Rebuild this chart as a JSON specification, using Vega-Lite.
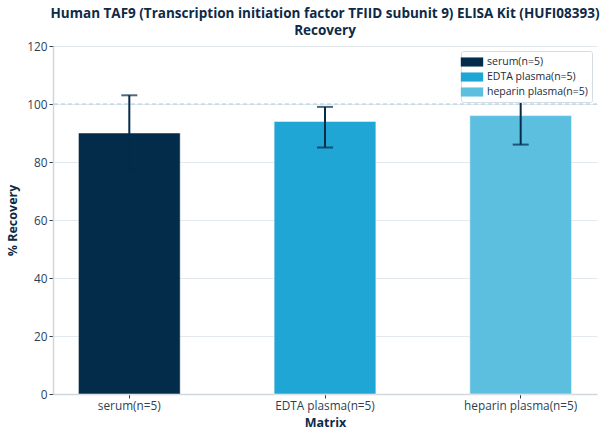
{
  "$schema": "https://vega.github.io/schema/vega-lite/v6.json",
  "width": 608,
  "height": 439,
  "autosize": {"type": "fit", "contains": "padding"},
  "padding": {"left": 6, "right": 10, "top": 6, "bottom": 9},
  "background": "white",
  "title": {
    "text": ["Human TAF9 (Transcription initiation factor TFIID subunit 9) ELISA Kit (HUFI08393)", "Recovery"],
    "font": "Open Sans",
    "fontSize": 13.5,
    "fontWeight": "bold",
    "color": "#0d2a47",
    "anchor": "middle",
    "lineHeight": 17,
    "offset": 4
  },
  "config": {
    "view": {"stroke": null},
    "font": "Open Sans",
    "axis": {
      "labelFont": "Open Sans",
      "titleFont": "Open Sans",
      "labelColor": "#2b3f55",
      "titleColor": "#0d2a47",
      "labelFontSize": 11.8,
      "titleFontSize": 12.5,
      "titleFontWeight": "bold",
      "domainColor": "#cfd8df",
      "tickColor": "#2b3f55",
      "gridColor": "#e3e8ec"
    }
  },
  "datasets": {
    "recovery": [
      {"Matrix": "serum(n=5)", "Recovery": 90, "Lower": 77, "Upper": 103},
      {"Matrix": "EDTA plasma(n=5)", "Recovery": 94, "Lower": 85, "Upper": 99},
      {"Matrix": "heparin plasma(n=5)", "Recovery": 96, "Lower": 86, "Upper": 106}
    ],
    "reference": [{"Ref": 100}]
  },
  "layer": [
    {
      "data": {"name": "recovery"},
      "mark": {"type": "bar", "stroke": "white", "strokeWidth": 0.5},
      "encoding": {
        "x": {
          "field": "Matrix",
          "type": "nominal",
          "sort": null,
          "title": "Matrix",
          "scale": {"paddingInner": 0.48, "paddingOuter": 0.13},
          "axis": {"labelAngle": 0, "titlePadding": 5, "domainWidth": 1.5, "tickSize": 4}
        },
        "y": {
          "field": "Recovery",
          "type": "quantitative",
          "title": "% Recovery",
          "scale": {"domain": [0, 120]},
          "axis": {"values": [0, 20, 40, 60, 80, 100, 120], "tickCount": 7, "titlePadding": 7, "domainWidth": 1.5, "tickSize": 4}
        },
        "color": {
          "field": "Matrix",
          "type": "nominal",
          "sort": null,
          "scale": {
            "domain": ["serum(n=5)", "EDTA plasma(n=5)", "heparin plasma(n=5)"],
            "range": ["#032b4a", "#1fa6d4", "#5cbfe0"]
          },
          "legend": {
            "title": null,
            "orient": "top-right",
            "offset": 5,
            "symbolType": "M-1.6,-0.65H1.6V0.65H-1.6Z",
            "symbolSize": 196,
            "symbolStrokeWidth": 0,
            "labelFont": "Open Sans",
            "labelFontSize": 10.5,
            "labelColor": "#1d2b3a",
            "labelOffset": 8,
            "fillColor": "white",
            "strokeColor": "#d5dde3",
            "padding": 4,
            "rowPadding": 2,
            "cornerRadius": 2
          }
        }
      }
    },
    {
      "data": {"name": "reference"},
      "mark": {"type": "rule", "strokeDash": [4, 3], "color": "#9fcfe3", "strokeWidth": 1.2},
      "encoding": {"y": {"field": "Ref", "type": "quantitative"}}
    },
    {
      "data": {"name": "recovery"},
      "mark": {"type": "rule", "color": "#032b4a", "strokeWidth": 2},
      "encoding": {
        "x": {"field": "Matrix", "type": "nominal", "sort": null},
        "y": {"field": "Lower", "type": "quantitative"},
        "y2": {"field": "Upper"}
      }
    },
    {
      "data": {"name": "recovery"},
      "mark": {"type": "tick", "orient": "horizontal", "color": "#032b4a", "size": 16, "thickness": 2},
      "encoding": {
        "x": {"field": "Matrix", "type": "nominal", "sort": null},
        "y": {"field": "Upper", "type": "quantitative"}
      }
    },
    {
      "data": {"name": "recovery"},
      "mark": {"type": "tick", "orient": "horizontal", "color": "#032b4a", "size": 16, "thickness": 2},
      "encoding": {
        "x": {"field": "Matrix", "type": "nominal", "sort": null},
        "y": {"field": "Lower", "type": "quantitative"}
      }
    }
  ]
}
